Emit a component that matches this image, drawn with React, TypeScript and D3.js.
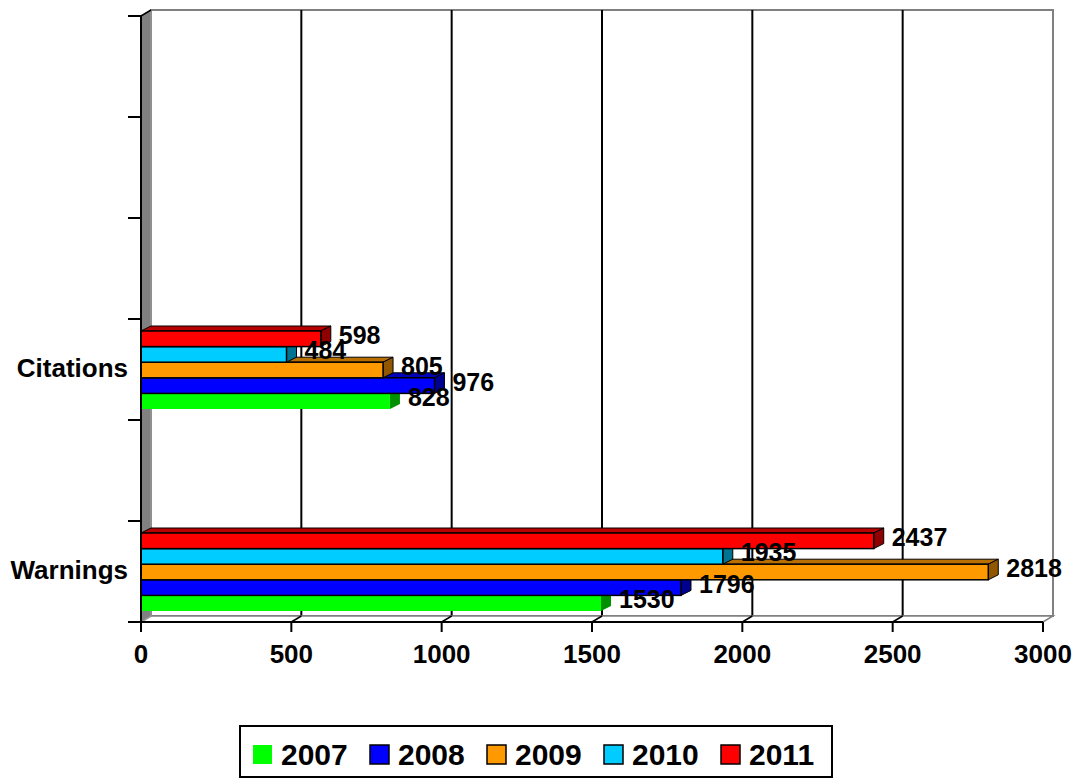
import React, { useEffect, useRef } from "react";
import * as d3 from "d3";

// category slots, bottom to top (the chart keeps four empty slots)
const categories = ["Warnings", "", "Citations", "", "", ""];
const years = ["2007", "2008", "2009", "2010", "2011"];
const colors = ["#00FF00", "#0000FF", "#FF9900", "#00CCFF", "#FF0000"];
const warnings = [1530, 1796, 2818, 1935, 2437];
const citations = [828, 976, 805, 484, 598];
const xTicks = [0, 500, 1000, 1500, 2000, 2500, 3000];

const values: Record<string, number[]> = {
  Warnings: warnings,
  Citations: citations,
};

export default function App() {
  const containerRef = useRef<HTMLDivElement>(null);

  useEffect(() => {
    drawChart();
  }, []);

  function drawChart() {
    const width = 1077;
    const height = 779;
    const font = "'Liberation Sans', Arial, sans-serif";

    // plot front plane and 3D depth
    const left = 141,
      right = 1043,
      top = 16,
      bottom = 622;
    const wdx = 10,
      wdy = -6; // wall depth
    const bdx = 10,
      bdy = -5; // bar depth

    d3.select(containerRef.current).selectAll("*").remove();

    const svg = d3
      .select(containerRef.current)
      .append("svg")
      .attr("width", width)
      .attr("height", height)
      .style("position", "absolute")
      .style("left", "0px")
      .style("top", "0px")
      .style("background", "white");

    const x = d3.scaleLinear().domain([0, 3000]).range([left, right]);
    const y = d3
      .scaleBand<number>()
      .domain(d3.range(categories.length))
      .range([bottom, top]);
    const inner = d3
      .scaleBand<string>()
      .domain(years.slice().reverse())
      .range([12, 90]);

    // back wall
    svg
      .append("rect")
      .attr("x", left + wdx)
      .attr("y", top + wdy)
      .attr("width", right - left)
      .attr("height", bottom - top)
      .attr("fill", "white")
      .attr("stroke", "#808080")
      .attr("stroke-width", 2);

    // wall gridlines
    svg
      .append("g")
      .selectAll("line")
      .data(xTicks.filter((d) => d > 0 && d < 3000))
      .join("line")
      .attr("x1", (d) => x(d) + wdx)
      .attr("x2", (d) => x(d) + wdx)
      .attr("y1", top + wdy)
      .attr("y2", bottom + wdy)
      .attr("stroke", "black")
      .attr("stroke-width", 2);

    // floor
    svg
      .append("polygon")
      .attr(
        "points",
        [
          [left, bottom],
          [right, bottom],
          [right + wdx, bottom + wdy],
          [left + wdx, bottom + wdy],
        ].join(" ")
      )
      .attr("fill", "white")
      .attr("stroke", "#808080")
      .attr("stroke-width", 1.5);

    svg
      .append("g")
      .selectAll("line")
      .data(xTicks.filter((d) => d > 0 && d < 3000))
      .join("line")
      .attr("x1", (d) => x(d))
      .attr("x2", (d) => x(d) + wdx)
      .attr("y1", bottom)
      .attr("y2", bottom + wdy)
      .attr("stroke", "black")
      .attr("stroke-width", 1.5);

    // left side wall
    svg
      .append("polygon")
      .attr(
        "points",
        [
          [left, top],
          [left + wdx, top + wdy],
          [left + wdx, bottom + wdy],
          [left, bottom],
        ].join(" ")
      )
      .attr("fill", "#808080")
      .attr("stroke", "#a0a0a0")
      .attr("stroke-width", 1);

    // bars
    const barsG = svg.append("g");
    categories.forEach((cat, ci) => {
      const vals = values[cat];
      if (!vals) return;
      const y0 = y(ci)!;
      const bh = inner.bandwidth();
      // draw bottom series first so upper bars cover the top faces
      years.forEach((yr, si) => {
        const v = vals[si];
        const x0 = x(0);
        const x1 = x(v);
        const ty = y0 + inner(yr)!;
        const base = d3.color(colors[si])!;
        const stroke = si === 0 ? "none" : "black";
        const g = barsG.append("g");
        g.append("polygon")
          .attr(
            "points",
            [
              [x0, ty],
              [x0 + bdx, ty + bdy],
              [x1 + bdx, ty + bdy],
              [x1, ty],
            ].join(" ")
          )
          .attr("fill", base.darker(0.9).formatHex())
          .attr("stroke", stroke)
          .attr("stroke-width", 1);
        g.append("polygon")
          .attr(
            "points",
            [
              [x1, ty],
              [x1 + bdx, ty + bdy],
              [x1 + bdx, ty + bh + bdy],
              [x1, ty + bh],
            ].join(" ")
          )
          .attr("fill", base.darker(1.6).formatHex())
          .attr("stroke", stroke)
          .attr("stroke-width", 1);
        g.append("rect")
          .attr("x", x0)
          .attr("y", ty)
          .attr("width", x1 - x0)
          .attr("height", bh)
          .attr("fill", colors[si])
          .attr("stroke", stroke)
          .attr("stroke-width", 1.5);
      });
    });

    // axes
    svg
      .append("line")
      .attr("x1", left)
      .attr("x2", right)
      .attr("y1", bottom)
      .attr("y2", bottom)
      .attr("stroke", "black")
      .attr("stroke-width", 2);
    svg
      .append("g")
      .selectAll("line")
      .data(xTicks)
      .join("line")
      .attr("x1", (d) => x(d))
      .attr("x2", (d) => x(d))
      .attr("y1", bottom)
      .attr("y2", bottom + 10)
      .attr("stroke", "black")
      .attr("stroke-width", 2);
    svg
      .append("line")
      .attr("x1", left)
      .attr("x2", left)
      .attr("y1", top)
      .attr("y2", bottom + 8)
      .attr("stroke", "black")
      .attr("stroke-width", 2);
    svg
      .append("line")
      .attr("x1", left)
      .attr("x2", left + wdx)
      .attr("y1", top)
      .attr("y2", top + wdy)
      .attr("stroke", "black")
      .attr("stroke-width", 1.5);
    svg
      .append("g")
      .selectAll("line")
      .data(d3.range(categories.length + 1))
      .join("line")
      .attr("x1", left - 13)
      .attr("x2", left)
      .attr("y1", (d) => bottom - d * y.step())
      .attr("y2", (d) => bottom - d * y.step())
      .attr("stroke", "black")
      .attr("stroke-width", 2);

    // tick labels
    svg
      .append("g")
      .attr("font-family", font)
      .attr("font-weight", "bold")
      .attr("font-size", 26)
      .attr("text-anchor", "middle")
      .selectAll("text")
      .data(xTicks)
      .join("text")
      .attr("x", (d) => x(d))
      .attr("y", 663)
      .text((d) => d);

    svg
      .append("g")
      .attr("font-family", font)
      .attr("font-weight", "bold")
      .attr("font-size", 26)
      .attr("text-anchor", "end")
      .selectAll("text")
      .data(categories.map((c, i) => ({ c, i })).filter((d) => d.c))
      .join("text")
      .attr("x", left - 13)
      .attr("y", (d) => y(d.i)! + y.bandwidth() / 2 - 2)
      .attr("dominant-baseline", "central")
      .text((d) => d.c);

    // data labels
    const labelsG = svg
      .append("g")
      .attr("font-family", font)
      .attr("font-weight", "bold")
      .attr("font-size", 25)
      .attr("fill", "black");
    categories.forEach((cat, ci) => {
      const vals = values[cat];
      if (!vals) return;
      const y0 = y(ci)!;
      years.forEach((yr, si) => {
        labelsG
          .append("text")
          .attr("x", x(vals[si]) + 18)
          .attr("y", y0 + inner(yr)! + inner.bandwidth() / 2 - 4)
          .attr("dominant-baseline", "central")
          .text(vals[si]);
      });
    });

    // legend
    const legend = svg.append("g");
    legend
      .append("rect")
      .attr("x", 240)
      .attr("y", 726)
      .attr("width", 592)
      .attr("height", 51)
      .attr("fill", "white")
      .attr("stroke", "black")
      .attr("stroke-width", 2);
    const item = legend
      .selectAll("g")
      .data(years)
      .join("g")
      .attr("transform", (d, i) => `translate(${253 + i * 117},0)`);
    item
      .append("rect")
      .attr("x", 0)
      .attr("y", 745)
      .attr("width", 19)
      .attr("height", 19)
      .attr("fill", (d, i) => colors[i])
      .attr("stroke", (d, i) => (i === 0 ? "none" : "black"))
      .attr("stroke-width", 1.5);
    item
      .append("text")
      .attr("x", 28)
      .attr("y", 765)
      .attr("font-family", font)
      .attr("font-weight", "bold")
      .attr("font-size", 30)
      .text((d) => d);
  }

  return (
    <div>
      <div ref={containerRef}></div>
    </div>
  );
}
